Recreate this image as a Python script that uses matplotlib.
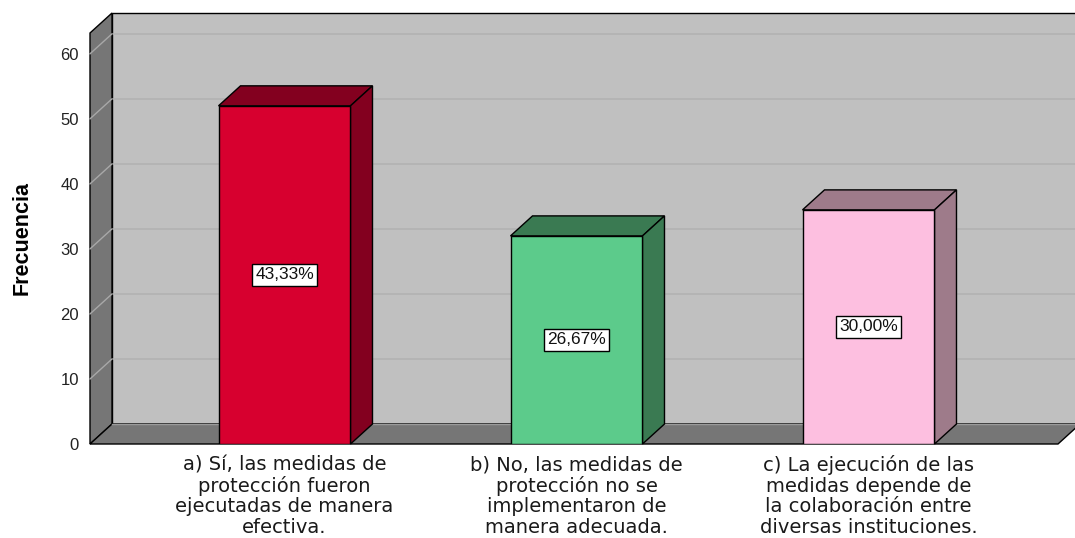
import matplotlib
matplotlib.use("Agg")
import matplotlib.pyplot as plt
from matplotlib.patches import Polygon, Rectangle

# ---- data ----
categories = [
    "a) Sí, las medidas de\nprotección fueron\nejecutadas de manera\nefectiva.",
    "b) No, las medidas de\nprotección no se\nimplementaron de\nmanera adecuada.",
    "c) La ejecución de las\nmedidas depende de\nla colaboración entre\ndiversas instituciones.",
]
values = [52, 32, 36]
pct_labels = ["43,33%", "26,67%", "30,00%"]
yticks = [0, 10, 20, 30, 40, 50, 60]
ylabel = "Frecuencia"

front_colors = ["#D7002F", "#5CCB8B", "#FDBFE0"]
dark_colors = ["#83001F", "#3A7A52", "#9E7B8A"]

W, H = 1075, 538
fig = plt.figure(figsize=(W / 100, H / 100), dpi=100)
fig.patch.set_facecolor("white")

# axes = front plane of the 3D box
left_px, right_px, bottom_px, top_px = 90, 1058, 444, 33
ax = fig.add_axes([left_px / W, (H - bottom_px) / H,
                   (right_px - left_px) / W, (bottom_px - top_px) / H])
ax.set_facecolor("none")
for s in ax.spines.values():
    s.set_visible(False)

# bar centres at 284.5, 576.5, 868.5 px -> 292 px per category
ppx = 292.0
xl = (left_px - 284.5) / ppx
xr = (right_px - 284.5) / ppx
ytop = 63.2
ax.set_xlim(xl, xr)
ax.set_ylim(0, ytop)

# depth vector in data units (22 px right, 20 px up)
ppy = (bottom_px - top_px) / ytop
ddx, ddy = 22 / ppx, 20 / ppy

wall_gray = "#C0C0C0"
side_gray = "#767676"

# back wall
ax.add_patch(Rectangle((xl + ddx, ddy), (xr - xl), ytop, facecolor=wall_gray,
                       edgecolor="black", lw=1.0, zorder=0, clip_on=False))
# back-wall gridlines
for t in yticks[1:]:
    ax.plot([xl + ddx, xr + ddx], [t + ddy, t + ddy], color="#B2B2B2", lw=1.2,
            zorder=0.5, clip_on=False)
# left wall
ax.add_patch(Polygon([(xl, 0), (xl, ytop), (xl + ddx, ytop + ddy), (xl + ddx, ddy)],
                     closed=True, facecolor=side_gray, edgecolor="black", lw=1.0,
                     zorder=1, clip_on=False))
for t in yticks[1:]:
    ax.plot([xl, xl + ddx], [t, t + ddy], color="#A8A8A8", lw=1.0,
            zorder=1.2, clip_on=False)
# floor
ax.add_patch(Polygon([(xl, 0), (xr, 0), (xr + ddx, ddy), (xl + ddx, ddy)],
                     closed=True, facecolor=side_gray, edgecolor="black", lw=1.0,
                     zorder=1.5, clip_on=False))
ax.plot([xl + ddx, xr + ddx], [ddy, ddy], color="#9A9A9A", lw=1.0, zorder=1.6,
        clip_on=False)

# bars
bw = 0.452
xs = list(range(len(values)))
ax.bar(xs, values, width=bw, color=front_colors, edgecolor="black",
       linewidth=1.0, zorder=4)
for x, v, dc in zip(xs, values, dark_colors):
    x0, x1 = x - bw / 2, x + bw / 2
    ax.add_patch(Polygon([(x0, v), (x1, v), (x1 + ddx, v + ddy), (x0 + ddx, v + ddy)],
                         closed=True, facecolor=dc, edgecolor="black", lw=1.0,
                         zorder=3, clip_on=False))
    ax.add_patch(Polygon([(x1, 0), (x1, v), (x1 + ddx, v + ddy), (x1 + ddx, ddy)],
                         closed=True, facecolor=dc, edgecolor="black", lw=1.0,
                         zorder=3, clip_on=False))

# percentage labels
for x, v, lab in zip(xs, values, pct_labels):
    ax.text(x, v / 2, lab, ha="center", va="center", fontsize=12.5,
            family=["Liberation Sans", "DejaVu Sans"], color="#111111", zorder=6,
            bbox=dict(boxstyle="square,pad=0.18", facecolor="white",
                      edgecolor="black", linewidth=1.0))

# ticks
ax.set_yticks(yticks)
ax.set_yticklabels([str(t) for t in yticks], fontsize=12,
                   family=["Liberation Sans", "DejaVu Sans"], color="#222222")
ax.set_xticks(xs)
ax.set_xticklabels(categories, fontsize=14, family=["DejaVu Sans"],
                   color="#1A1A1A", linespacing=1.1, ha="center",
                   multialignment="center")
ax.tick_params(axis="y", length=0, pad=8)
ax.tick_params(axis="x", length=0, pad=8)

fig.text(22 / W, 1 - 238 / H, ylabel, rotation=90, ha="center", va="center",
         fontsize=15.5, fontweight="bold",
         family=["Liberation Sans", "DejaVu Sans"], color="black")

fig.savefig("out.png", dpi=100)
